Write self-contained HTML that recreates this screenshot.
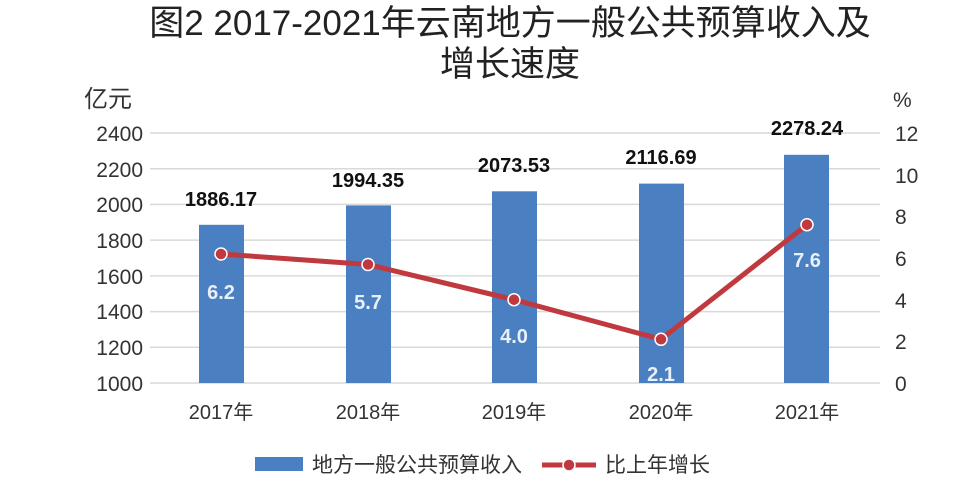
<!DOCTYPE html>
<html><head><meta charset="utf-8"><style>
body{margin:0;background:#fff;}
svg text{font-family:"Liberation Sans","Noto Sans CJK SC",sans-serif;}
</style></head><body>
<svg width="979" height="490" xmlns="http://www.w3.org/2000/svg">
<rect width="979" height="490" fill="#fff"/>
<text x="510" y="35" font-size="35" text-anchor="middle" fill="#222">图2 2017-2021年云南地方一般公共预算收入及</text>
<text x="510" y="76" font-size="35" text-anchor="middle" fill="#222">增长速度</text>
<text x="84" y="107" font-size="24" fill="#333">亿元</text>
<text x="893" y="107" font-size="21" fill="#333">%</text>
<g stroke="#d9d9d9" stroke-width="1.5">
<line x1="150" x2="880" y1="133" y2="133"/>
<line x1="150" x2="880" y1="168.7" y2="168.7"/>
<line x1="150" x2="880" y1="204.4" y2="204.4"/>
<line x1="150" x2="880" y1="240.1" y2="240.1"/>
<line x1="150" x2="880" y1="275.9" y2="275.9"/>
<line x1="150" x2="880" y1="311.6" y2="311.6"/>
<line x1="150" x2="880" y1="347.3" y2="347.3"/>
<line x1="150" x2="880" y1="383" y2="383"/>
</g>
<g font-size="21" fill="#333" text-anchor="end">
<text x="143" y="141">2400</text><text x="143" y="177">2200</text><text x="143" y="212">2000</text><text x="143" y="248">1800</text><text x="143" y="284">1600</text><text x="143" y="319">1400</text><text x="143" y="355">1200</text><text x="143" y="391">1000</text>
</g>
<g font-size="21" fill="#333">
<text x="895" y="141">12</text><text x="895" y="183">10</text><text x="895" y="224">8</text><text x="895" y="266">6</text><text x="895" y="308">4</text><text x="895" y="349">2</text><text x="895" y="391">0</text>
</g>
<g fill="#4a7fc1">
<rect x="199" y="224.8" width="45" height="158.2"/>
<rect x="346" y="205.4" width="45" height="177.6"/>
<rect x="492" y="191.3" width="45" height="191.7"/>
<rect x="639" y="183.6" width="45" height="199.4"/>
<rect x="784" y="154.8" width="45" height="228.2"/>
</g>
<g font-size="20" font-weight="bold" fill="#111" text-anchor="middle">
<text x="221" y="206">1886.17</text><text x="368" y="187">1994.35</text><text x="514" y="172">2073.53</text><text x="661" y="164">2116.69</text><text x="807" y="135">2278.24</text>
</g>
<polyline points="221,254 368,264.5 514,299.7 661,339.3 807,224.7" fill="none" stroke="#c0393f" stroke-width="5"/>
<g fill="#c0393f" stroke="#fff" stroke-width="1.5">
<circle cx="221" cy="254" r="6"/><circle cx="368" cy="264.5" r="6"/><circle cx="514" cy="299.7" r="6"/><circle cx="661" cy="339.3" r="6"/><circle cx="807" cy="224.7" r="6"/>
</g>
<g font-size="20" font-weight="bold" fill="#e8f0fa" text-anchor="middle">
<text x="221" y="299">6.2</text><text x="368" y="309">5.7</text><text x="514" y="343">4.0</text><text x="661" y="381">2.1</text><text x="807" y="267">7.6</text>
</g>
<g font-size="20" fill="#333" text-anchor="middle">
<text x="221" y="419">2017年</text><text x="368" y="419">2018年</text><text x="514" y="419">2019年</text><text x="661" y="419">2020年</text><text x="807" y="419">2021年</text>
</g>
<rect x="255" y="457" width="48" height="14" fill="#4a7fc1"/>
<text x="312" y="472" font-size="21" fill="#333">地方一般公共预算收入</text>
<line x1="542" x2="596" y1="465" y2="465" stroke="#c0393f" stroke-width="5"/>
<circle cx="569" cy="465" r="6" fill="#c0393f" stroke="#fff" stroke-width="1.5"/>
<text x="605" y="472" font-size="21" fill="#333">比上年增长</text>
</svg>
</body></html>
